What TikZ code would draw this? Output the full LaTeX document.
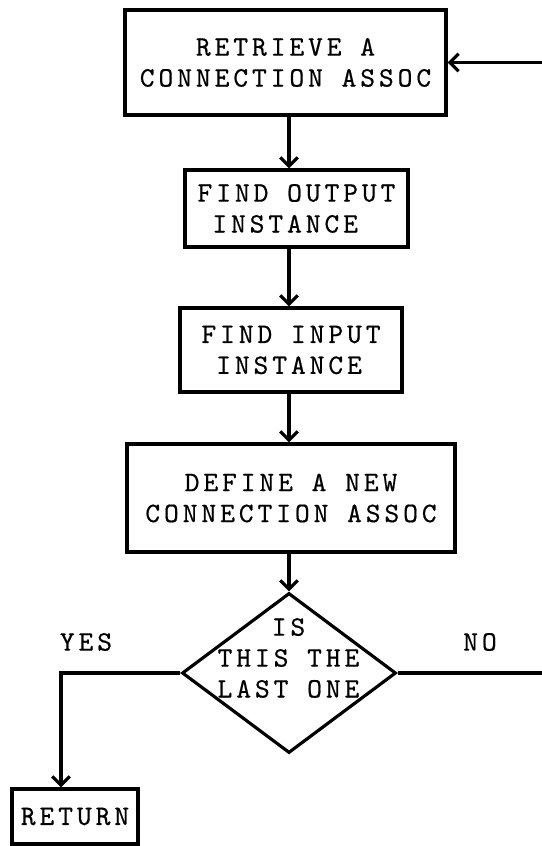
\documentclass[tikz,border=0pt]{standalone}
\usepackage{fontspec}
\newfontfamily\typewriter{lmmono10-regular.otf}[LetterSpace=14,FakeBold=0.5]
\usetikzlibrary{arrows.meta,shapes.geometric}

\begin{document}
\begin{tikzpicture}[>={Straight Barb[length=5pt,width=10pt]}, line width=1.8pt,
  txt/.style={font=\typewriter\fontsize{16}{17.6}\selectfont, inner sep=0pt},
  stepbox/.style={draw, rectangle, txt},
  decision/.style={draw, diamond, inner sep=0pt, minimum width=4.28cm, minimum height=3.2cm},
  flow/.style={->}]
\useasboundingbox (0,0) rectangle (10.82,16.92);
\coordinate (spine) at (5.78,0);
\node[stepbox, minimum width=6.42cm, minimum height=2.10cm, align=center] (retrieve) at (5.71,15.67) {RETRIEVE A\\CONNECTION ASSOC};
\node[stepbox, minimum width=4.46cm, minimum height=1.54cm, align=left] (findout) at (5.93,12.75) {FIND OUTPUT\\\hphantom{I}INSTANCE};
\node[stepbox, minimum width=4.44cm, minimum height=1.68cm, align=left] (findin) at (5.82,9.92) {FIND INPUT\\\hphantom{I}INSTANCE};
\node[stepbox, minimum width=6.56cm, minimum height=2.16cm, align=center] (define) at (5.82,6.96) {DEFINE A NEW\\CONNECTION ASSOC};
\node[decision] (last) at (5.78,3.46) {};
\node[txt, align=center] (lastq) at (5.77,3.76) {IS\\THIS THE\\LAST ONE};
\node[stepbox, minimum width=2.52cm, minimum height=1.10cm] (return) at (1.50,0.59) {RETURN};
\node[txt] (yes) at (1.72,4.08) {YES};
\node[txt] (no) at (9.60,4.08) {NO};
\draw[flow] (retrieve.south -| spine) -- (findout.north -| spine);
\draw[flow] (findout.south -| spine) -- (findin.north -| spine);
\draw[flow] (findin.south -| spine) -- (define.north -| spine);
\draw[flow] (define.south -| spine) -- (last.north);
\coordinate (yescorner) at (1.22,3.46);
\draw[flow] (last.west) -- (yescorner) -- (yescorner |- return.north);
\coordinate (loopcorner) at (11.2,3.46);
\draw[flow] (last.east) -- (loopcorner) |- (retrieve.east);
\end{tikzpicture}
\end{document}
